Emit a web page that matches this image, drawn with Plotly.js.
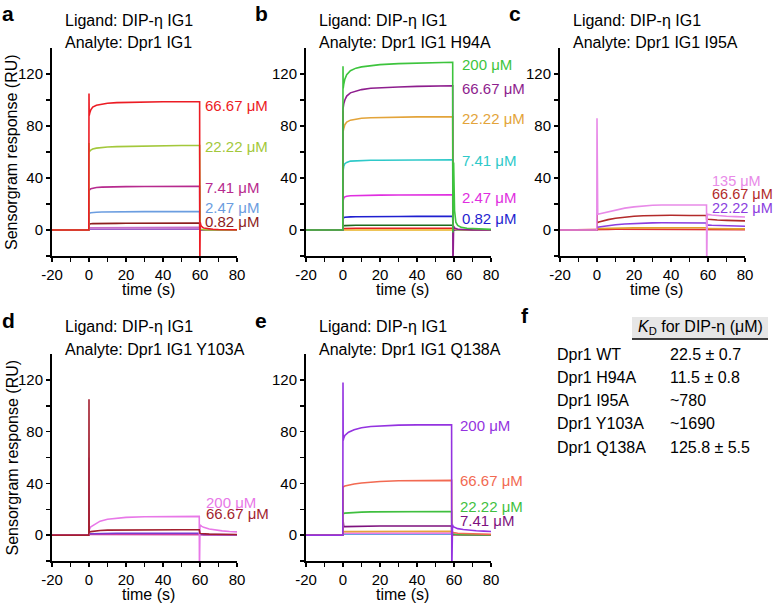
<!DOCTYPE html>
<html>
<head>
<meta charset="utf-8">
<script src="https://cdn.plot.ly/plotly-3.0.1.min.js"></script>
<style>
body { margin: 0; background: #fff; }
#chart { width: 774px; height: 605px; }
</style>
</head>
<body>
<div id="chart"></div>
<script>
const W = 774
const H = 605
const FONT = 'Arial, "Liberation Sans", sans-serif'

// tick marks every 10 s / 20 RU, labels only on the major ones
const xTickVals = [-20, -10, 0, 10, 20, 30, 40, 50, 60, 70, 80]
const xTickText = ['-20', ' ', '0', ' ', '20', ' ', '40', ' ', '60', ' ', '80']
const yTickVals = [-20, 0, 20, 40, 60, 80, 100, 120]
const yTickText = [' ', '0', ' ', '40', ' ', '80', ' ', '120']

// a: Dpr1 IG1 (WT)
const tA = [-20, -0.1, 0, 0.1, 0.4, 1, 2, 4, 7, 10, 15, 20, 30, 40, 50, 59.8, 59.9, 60.1, 60.5, 61, 62, 64, 67, 70, 80]
const a6667 = [0, 0, 105, 88, 90, 92.5, 94.5, 96, 97, 97.5, 98, 98.2, 98.5, 98.6, 98.7, 98.7, -30, 6, 3.5, 2.5, 1.5, 1, 0.6, 0.4, 0.2]
const a2222 = [0, 0, 67, 60, 60.5, 61.5, 62.3, 63, 63.5, 63.8, 64.1, 64.3, 64.6, 64.8, 65, 65, 2, 1, 0.5, 0.3, 0.2, 0.1, 0.1, 0, 0]
const a741 = [0, 0, 31, 30.5, 31, 31.8, 32.3, 32.7, 33, 33.2, 33.3, 33.4, 33.5, 33.6, 33.7, 33.7, 1, 0.5, 0.3, 0.2, 0.1, 0, 0, 0, 0]
const a247 = [0, 0, 12.5, 12.8, 13, 13.3, 13.5, 13.7, 13.8, 13.9, 14, 14, 14.1, 14.1, 14.2, 14.2, 0.5, 0.2, 0.1, 0, 0, 0, 0, 0, 0]
const a082 = [0, 0, 4.5, 4.6, 4.7, 4.8, 4.9, 5, 5, 5.1, 5.1, 5.2, 5.2, 5.3, 5.3, 5.3, 0.2, 0.1, 0, 0, 0, 0, 0, 0, 0]
const a027 = [0, 0, 1.6, 1.6, 1.7, 1.7, 1.8, 1.8, 1.8, 1.9, 1.9, 1.9, 1.9, 2, 2, 2, 0.1, 0, 0, 0, 0, 0, 0, 0, 0]
const a009 = [0, 0, 0.6, 0.6, 0.7, 0.7, 0.7, 0.7, 0.8, 0.8, 0.8, 0.8, 0.8, 0.8, 0.8, 0.8, 0, 0, 0, 0, 0, 0, 0, 0, 0]

// b: H94A
const tB = [-20, -0.1, 0, 0.1, 0.4, 1, 2, 4, 7, 10, 15, 20, 30, 40, 50, 59.3, 59.4, 59.8, 60.3, 61, 62, 64, 67, 70, 80]
const b200 = [0, 0, 126, 109, 112, 116, 119.5, 122.5, 124.5, 125.5, 126.5, 127.2, 128, 128.5, 128.8, 129, -2, 52, 15, 6, 3.5, 2, 1.3, 1, 0.5]
const b6667 = [0, 0, 93, 95, 97, 100, 103, 105.5, 107, 108, 109, 109.5, 110, 110.5, 110.8, 111, -30, 3, 1.5, 1, 0.6, 0.4, 0.2, 0.1, 0]
const b2222 = [0, 0, 92, 76, 78, 81, 83, 84.5, 85.5, 86, 86.3, 86.5, 86.8, 87, 87, 87, 1, 1, 0.5, 0.3, 0.2, 0.1, 0, 0, 0]
const b741 = [0, 0, 45, 47, 49, 51, 52, 53, 53.3, 53.5, 53.6, 53.7, 53.8, 53.9, 54, 54, 1, 0.8, 0.4, 0.2, 0.1, 0, 0, 0, 0]
const b247 = [0, 0, 22, 23.5, 24.5, 25.5, 26, 26.3, 26.5, 26.6, 26.7, 26.8, 26.9, 27, 27, 27, 0.5, 0.5, 0.2, 0.1, 0, 0, 0, 0, 0]
const b082 = [0, 0, 8.5, 9, 9.5, 9.8, 10, 10.1, 10.2, 10.3, 10.3, 10.4, 10.4, 10.5, 10.5, 10.5, 0.2, 0.2, 0.1, 0, 0, 0, 0, 0, 0]
const b027 = [0, 0, 3, 3.2, 3.3, 3.4, 3.5, 3.5, 3.6, 3.6, 3.6, 3.7, 3.7, 3.7, 3.7, 3.7, 0.1, 0.1, 0, 0, 0, 0, 0, 0, 0]
const b009 = [0, 0, 1, 1.1, 1.2, 1.2, 1.3, 1.3, 1.3, 1.4, 1.4, 1.4, 1.4, 1.4, 1.4, 1.4, 0, 0, 0, 0, 0, 0, 0, 0, 0]
const b003 = [0, 0, -0.5, -0.5, -0.4, -0.4, -0.3, -0.3, -0.3, -0.3, -0.3, -0.3, -0.3, -0.3, -0.3, -0.3, 0, 0, 0, 0, 0, 0, 0, 0, 0]

// c: I95A
const tC = [-20, -0.1, 0, 0.1, 0.4, 1, 3, 6, 10, 15, 20, 25, 30, 35, 40, 50, 59.2, 59.3, 59.6, 60, 62, 65, 70, 75, 80]
const c135 = [0, 0, 86, 12, 12, 12.3, 13, 14, 15.5, 16.8, 17.8, 18.5, 19, 19.2, 19.3, 19.3, 19.2, -30, 12.5, 12, 11.5, 11, 10.6, 10.3, 10]
const c6667 = [0, 0, 12, 5.5, 5.8, 6.2, 7, 8, 9, 10, 10.6, 11, 11.2, 11.3, 11.3, 11.2, 11.1, 7.5, 8.5, 8.3, 8, 7.7, 7.4, 7.2, 7]
const c2222 = [0, 0, 3, 2, 2.1, 2.3, 2.8, 3.4, 4, 4.6, 5, 5.3, 5.5, 5.6, 5.6, 5.5, 5.4, 3.5, 4, 3.8, 3.6, 3.4, 3.2, 3, 2.9]
const c741 = [0, 0, 1.2, 1, 1, 1.1, 1.2, 1.3, 1.4, 1.5, 1.6, 1.6, 1.7, 1.7, 1.7, 1.7, 1.7, 1, 1.1, 1.1, 1, 1, 0.9, 0.9, 0.9]
const c247 = [0, 0, 0.5, 0.4, 0.4, 0.4, 0.5, 0.5, 0.6, 0.6, 0.6, 0.7, 0.7, 0.7, 0.7, 0.7, 0.7, 0.4, 0.4, 0.4, 0.4, 0.4, 0.3, 0.3, 0.3]

// d: Y103A
const tD = [-20, -0.1, 0, 0.1, 0.4, 1, 3, 6, 10, 15, 20, 30, 40, 50, 59.6, 59.7, 60, 60.3, 61, 62, 65, 68, 72, 76, 80]
const d200 = [0, 0, 60, 4, 5, 6.5, 8.5, 10.8, 12.3, 13.2, 13.7, 14.2, 14.4, 14.5, 14.5, -30, 8, 7.5, 6.8, 6, 4.8, 4, 3.3, 2.8, 2.5]
const d6667 = [0, 0, 105, 2, 2.3, 2.7, 3.2, 3.6, 3.9, 4, 4.1, 4.2, 4.2, 4.2, 4.2, 1.5, 1.3, 1.2, 1.1, 1, 0.8, 0.7, 0.6, 0.5, 0.5]
const d2222 = [0, 0, 2, 1, 1, 1.1, 1.2, 1.3, 1.3, 1.4, 1.4, 1.4, 1.4, 1.4, 1.4, 0.6, 0.6, 0.5, 0.5, 0.5, 0.4, 0.4, 0.3, 0.3, 0.3]
const d741 = [0, 0, 1, 0.5, 0.5, 0.6, 0.6, 0.7, 0.7, 0.7, 0.7, 0.8, 0.8, 0.8, 0.8, 0.3, 0.3, 0.3, 0.3, 0.2, 0.2, 0.2, 0.2, 0.1, 0.1]

// e: Q138A
const tE = [-20, -0.1, 0, 0.1, 0.4, 1, 3, 6, 10, 15, 20, 30, 40, 50, 58.7, 58.8, 59.2, 59.6, 60.5, 62, 65, 68, 72, 76, 80]
const e200 = [0, 0, 118, 73, 75, 77, 79.5, 81.5, 83, 84, 84.5, 85, 85.2, 85.2, 85.2, -30, 8, 6.5, 5.8, 5, 4.3, 3.8, 3.4, 3.1, 2.8]
const e6667 = [0, 0, 38, 37, 37.5, 38, 38.8, 39.5, 40.3, 41, 41.5, 42, 42.2, 42.3, 42.3, 2, 2.5, 2, 1.7, 1.4, 1.2, 1, 0.8, 0.7, 0.6]
const e2222 = [0, 0, 35, 16.5, 16.7, 17, 17.3, 17.6, 17.8, 18, 18.1, 18.2, 18.3, 18.3, 18.3, 1, 1, 0.8, 0.6, 0.5, 0.4, 0.3, 0.3, 0.2, 0.2]
const e741 = [0, 0, 12, 7, 6.6, 6.6, 6.7, 6.8, 6.9, 7, 7, 7, 7, 7, 7, 0.5, 0.5, 0.4, 0.3, 0.3, 0.2, 0.2, 0.1, 0.1, 0.1]
const e247 = [0, 0, 3, 2.6, 2.6, 2.7, 2.7, 2.8, 2.8, 2.9, 2.9, 2.9, 3, 3, 3, 0.3, 0.3, 0.3, 0.2, 0.2, 0.2, 0.1, 0.1, 0.1, 0.1]
const e082 = [0, 0, 1.5, 1.4, 1.4, 1.5, 1.5, 1.6, 1.6, 1.6, 1.6, 1.7, 1.7, 1.7, 1.7, 0.2, 0.2, 0.1, 0.1, 0.1, 0.1, 0.1, 0, 0, 0]
const e027 = [0, 0, 0.7, 0.7, 0.7, 0.7, 0.8, 0.8, 0.8, 0.8, 0.8, 0.8, 0.8, 0.8, 0.8, 0.1, 0.1, 0, 0, 0, 0, 0, 0, 0, 0]

// f: table
const mutants = ['Dpr1 WT', 'Dpr1 H94A', 'Dpr1 I95A', 'Dpr1 Y103A', 'Dpr1 Q138A']
const kdValues = ['22.5 ± 0.7', '11.5 ± 0.8', '~780', '~1690', '125.8 ± 5.5']

// panel boxes in pixels, series drawn bottom to top
const panels = [
	{letter: 'a', analyte: 'Analyte: Dpr1 IG1', t: tA, labelX: 61.6, labelSize: 15,
	 box: {x0: 52, x1: 237, y0: 48, y1: 256},
	 series: [
		{y: a009, color: '#9a5fc8'},
		{y: a027, color: '#c86ec8'},
		{y: a082, color: '#8c1d1d', label: '0.82 μM', labelY: 6.5},
		{y: a247, color: '#6b9de0', label: '2.47 μM', labelY: 17},
		{y: a741, color: '#b72a8e', label: '7.41 μM', labelY: 32.5},
		{y: a2222, color: '#a3c83b', label: '22.22 μM', labelY: 64},
		{y: a6667, color: '#ec1c24', label: '66.67 μM', labelY: 96},
	 ]},
	{letter: 'b', analyte: 'Analyte: Dpr1 IG1 H94A', t: tB, labelX: 63.2, labelSize: 15,
	 box: {x0: 306, x1: 491, y0: 48, y1: 256},
	 series: [
		{y: b003, color: '#e8b020'},
		{y: b009, color: '#e52222'},
		{y: b027, color: '#1e6b1e'},
		{y: b082, color: '#1f1fd0', label: '0.82 μM', labelY: 9},
		{y: b247, color: '#e02ee0', label: '2.47 μM', labelY: 25},
		{y: b741, color: '#2ec9c9', label: '7.41 μM', labelY: 53.5},
		{y: b2222, color: '#e3a43a', label: '22.22 μM', labelY: 86},
		{y: b6667, color: '#8e1e8e', label: '66.67 μM', labelY: 109},
		{y: b200, color: '#3dc43d', label: '200 μM', labelY: 127},
	 ]},
	{letter: 'c', analyte: 'Analyte: Dpr1 IG1 I95A', t: tC, labelX: 61.2, labelSize: 14.5,
	 box: {x0: 560, x1: 745, y0: 48, y1: 256},
	 series: [
		{y: c247, color: '#e03030'},
		{y: c741, color: '#e0a030'},
		{y: c2222, color: '#8b3de0', label: '22.22 μM', labelY: 17},
		{y: c6667, color: '#b22a2a', label: '66.67 μM', labelY: 27.7},
		{y: c135, color: '#e88ae8', label: '135 μM', labelY: 37.7},
	 ]},
	{letter: 'd', analyte: 'Analyte: Dpr1 IG1 Y103A', t: tD, labelX: 62, labelSize: 15,
	 box: {x0: 52, x1: 237, y0: 354, y1: 561},
	 series: [
		{y: d741, color: '#d040a0'},
		{y: d2222, color: '#7a3ad0'},
		{y: d200, color: '#e878e8', label: '200 μM', labelY: 25.4},
		{y: d6667, color: '#a31f2f', label: '66.67 μM', labelY: 17},
	 ]},
	{letter: 'e', analyte: 'Analyte: Dpr1 IG1 Q138A', t: tE, labelX: 62.2, labelSize: 15,
	 box: {x0: 306, x1: 491, y0: 354, y1: 561},
	 series: [
		{y: e027, color: '#6aa0e0'},
		{y: e082, color: '#e87ae8'},
		{y: e247, color: '#e6a23c'},
		{y: e741, color: '#7e117e', label: '7.41 μM', labelY: 11.5},
		{y: e2222, color: '#3fbf3f', label: '22.22 μM', labelY: 22.5},
		{y: e6667, color: '#f26a52', label: '66.67 μM', labelY: 42},
		{y: e200, color: '#9433e0', label: '200 μM', labelY: 85},
	 ]},
]

function px(x){ return x / W }
function py(y){ return 1 - y / H }

function note(text, x, y, size, extra){
	return Object.assign({
		text: text, x: px(x), y: py(y), xref: 'paper', yref: 'paper',
		xanchor: 'center', yanchor: 'middle', showarrow: false,
		font: {family: FONT, size: size, color: '#000'}
	}, extra || {})
}

let traces = []
let annotations = []
let layout = {
	width: W, height: H,
	margin: {l: 0, r: 0, t: 0, b: 0},
	paper_bgcolor: '#fff', plot_bgcolor: '#fff',
	showlegend: false,
	font: {family: FONT, color: '#000'},
}

panels.forEach(function(p, i){
	let n = i === 0 ? '' : String(i + 1)
	let b = p.box

	layout['xaxis' + n] = {
		domain: [px(b.x0), px(b.x1)], anchor: 'y' + n, range: [-20, 80],
		tickmode: 'array', tickvals: xTickVals, ticktext: xTickText,
		ticks: 'outside', ticklen: 4, tickwidth: 1.5, tickcolor: '#000',
		showline: true, linewidth: 2, linecolor: '#000',
		showgrid: false, zeroline: false, fixedrange: true,
		tickfont: {family: FONT, size: 15, color: '#000'},
	}
	layout['yaxis' + n] = {
		domain: [py(b.y1), py(b.y0)], anchor: 'x' + n, range: [-20, 140],
		tickmode: 'array', tickvals: yTickVals, ticktext: yTickText,
		ticks: 'outside', ticklen: 4, tickwidth: 1.5, tickcolor: '#000',
		showline: true, linewidth: 2, linecolor: '#000',
		showgrid: false, zeroline: false, fixedrange: true,
		tickfont: {family: FONT, size: 15, color: '#000'},
	}

	for(let s of p.series){
		traces.push({
			x: p.t, y: s.y, type: 'scatter', mode: 'lines',
			line: {color: s.color, width: 1.6},
			xaxis: 'x' + n, yaxis: 'y' + n, hoverinfo: 'skip',
		})
		if(s.label){
			annotations.push({
				text: s.label, x: p.labelX, y: s.labelY, xref: 'x' + n, yref: 'y' + n,
				xanchor: 'left', yanchor: 'middle', showarrow: false,
				font: {family: FONT, size: p.labelSize, color: s.color},
			})
		}
	}

	// panel letter, two title lines, time axis title
	let top = b.y0
	annotations.push(note('<b>' + p.letter + '</b>', b.x0 - 44 + (i % 3 === 0 ? 0 : -1), top - 34, 21))
	annotations.push(note('Ligand: DIP-η IG1', b.x0 + 11, top - 28, 16, {xanchor: 'left'}))
	annotations.push(note(p.analyte, b.x0 + 11, top - 5, 16, {xanchor: 'left'}))
	annotations.push(note('time (s)', (b.x0 + b.x1) / 2 + 4, b.y1 + 33, 16))
	if(i % 3 === 0){
		annotations.push(note('Sensorgram response (RU)', 12, (b.y0 + b.y1) / 2, 16, {textangle: -90}))
	}
})

// panel f: table
annotations.push(note('<b>f</b>', 525, 315, 21))
annotations.push(note('<i>K</i><sub>D</sub> for DIP-η (μM)', 700, 328, 16))
mutants.forEach(function(m, i){
	let y = 354 + i * 23.3
	annotations.push(note(m, 555, y, 16, {xanchor: 'left'}))
	annotations.push(note(kdValues[i], 668, y, 16, {xanchor: 'left'}))
})

layout.annotations = annotations
layout.shapes = [
	{type: 'rect', xref: 'paper', yref: 'paper', x0: px(632), x1: px(768), y0: py(339), y1: py(317),
	 fillcolor: '#e6e6e6', line: {width: 0}, layer: 'below'},
	{type: 'line', xref: 'paper', yref: 'paper', x0: px(632), x1: px(768), y0: py(339), y1: py(339),
	 line: {color: '#000', width: 1.5}},
]

Plotly.newPlot('chart', traces, layout, {staticPlot: true, displayModeBar: false})
</script>
</body>
</html>
